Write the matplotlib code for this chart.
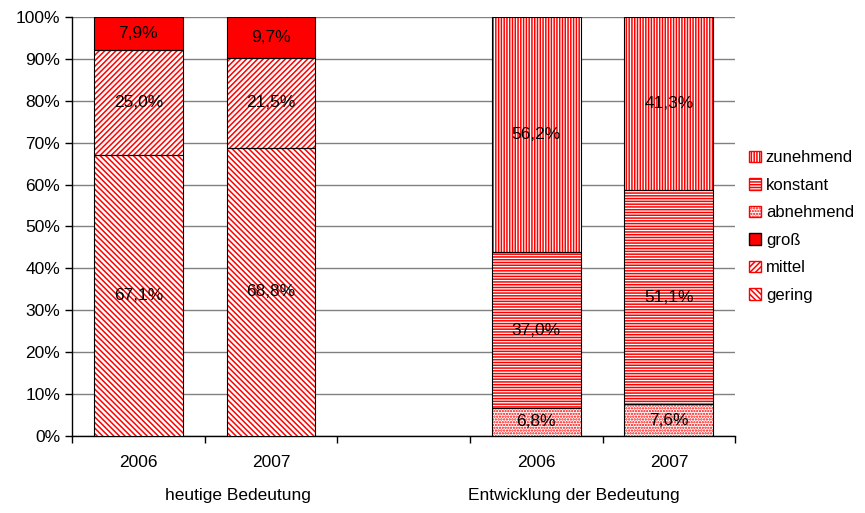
import matplotlib
matplotlib.use("Agg")
import matplotlib.pyplot as plt
from matplotlib.patches import Patch
from matplotlib.transforms import blended_transform_factory

plt.rcParams['font.family'] = ['Liberation Sans', 'DejaVu Sans']
plt.rcParams['hatch.linewidth'] = 1.1

# data
slots = ['2006', '2007', '', '2006', '2007']
groups = ['heutige Bedeutung', 'Entwicklung der Bedeutung']

# heutige Bedeutung (slots 0, 1)
gering = [67.1, 68.8]
mittel = [25.0, 21.5]
gross = [7.9, 9.7]
# Entwicklung der Bedeutung (slots 3, 4)
abnehmend = [6.8, 7.6]
konstant = [37.0, 51.1]
zunehmend = [56.2, 41.3]

red = '#ff0000'
H_GERING = '\\' * 6
H_MITTEL = '/' * 6
H_ABN = '.' * 6
H_KON = '-' * 6
H_ZUN = '|' * 6
FS = 12.5

fig = plt.figure(figsize=(8.65, 5.13), dpi=100)
ax = fig.add_axes([0.0832, 0.150, 0.7668, 0.817])

w = 0.67


def stack(xs, series):
    bottom = [0.0] * len(xs)
    for vals, hatch, solid in series:
        if solid:
            ax.bar(xs, vals, w, bottom=bottom, color=red, edgecolor='black', lw=0.8, zorder=3)
        else:
            ax.bar(xs, vals, w, bottom=bottom, color='white', edgecolor=red, hatch=hatch, lw=0, zorder=3)
            ax.bar(xs, vals, w, bottom=bottom, fill=False, edgecolor='black', lw=0.8, zorder=4)
        for x, b, v in zip(xs, bottom, vals):
            ax.text(x, b + v / 2, f'{v:.1f}%'.replace('.', ','), ha='center', va='center',
                    fontsize=FS, zorder=5)
        bottom = [b + v for b, v in zip(bottom, vals)]


stack([0, 1], [(gering, H_GERING, False), (mittel, H_MITTEL, False), (gross, None, True)])
stack([3, 4], [(abnehmend, H_ABN, False), (konstant, H_KON, False), (zunehmend, H_ZUN, False)])

ax.set_xlim(-0.5, len(slots) - 0.5)
ax.set_ylim(0, 100)
ax.set_yticks(range(0, 101, 10))
ax.set_yticklabels([f'{v}%' for v in range(0, 101, 10)], fontsize=FS)
ax.yaxis.grid(True, color='#808080', lw=1, zorder=0)

# tick marks between categories, labels at centres
ax.set_xticks([i - 0.5 for i in range(len(slots) + 1)])
ax.set_xticklabels([])
ax.set_xticks(range(len(slots)), minor=True)
ax.set_xticklabels(slots, minor=True, fontsize=FS)
ax.tick_params(axis='x', which='minor', length=0, pad=14)
ax.tick_params(axis='x', which='major', length=5, width=1)
ax.tick_params(axis='y', length=5, width=1)

for s in ['top', 'right']:
    ax.spines[s].set_visible(False)
for s in ['left', 'bottom']:
    ax.spines[s].set_color('black')
    ax.spines[s].set_linewidth(1)

trans = blended_transform_factory(ax.transData, fig.transFigure)
ax.text(0.75, 0.02, groups[0], transform=trans, ha='center', va='bottom', fontsize=FS)
ax.text(3.28, 0.02, groups[1], transform=trans, ha='center', va='bottom', fontsize=FS)

handles = [
    Patch(facecolor='white', edgecolor=red, hatch=H_ZUN, label='zunehmend'),
    Patch(facecolor='white', edgecolor=red, hatch=H_KON, label='konstant'),
    Patch(facecolor='white', edgecolor=red, hatch=H_ABN, label='abnehmend'),
    Patch(facecolor=red, edgecolor='black', label='groß'),
    Patch(facecolor='white', edgecolor=red, hatch=H_MITTEL, label='mittel'),
    Patch(facecolor='white', edgecolor=red, hatch=H_GERING, label='gering'),
]
fig.legend(handles=handles, loc='center left', bbox_to_anchor=(0.866, 0.558), frameon=False,
           fontsize=12, handlelength=0.7, handleheight=0.7, handletextpad=0.3,
           labelspacing=0.75, borderpad=0, borderaxespad=0)

fig.savefig('out.png', dpi=100)
